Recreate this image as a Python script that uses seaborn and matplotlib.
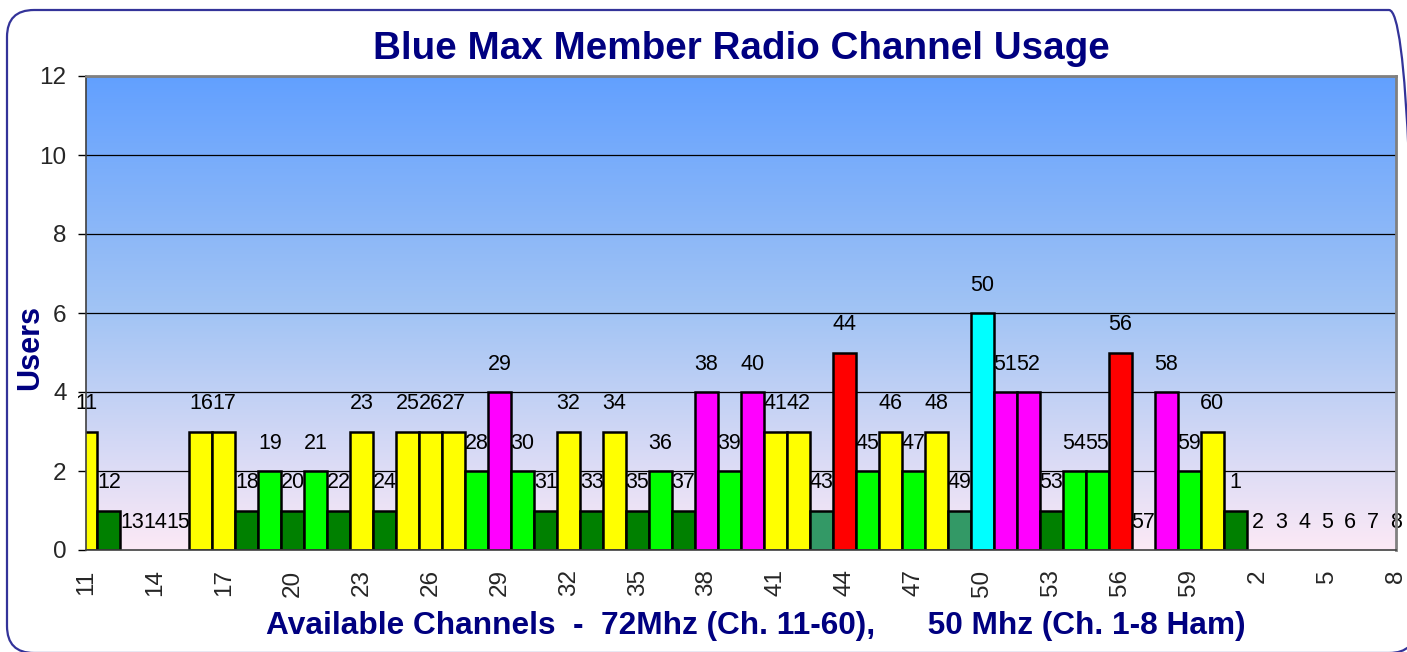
import numpy as np
import pandas as pd
import matplotlib
matplotlib.use("Agg")
import matplotlib.pyplot as plt
from matplotlib.patches import FancyBboxPatch
from matplotlib.transforms import IdentityTransform
from matplotlib.colors import to_rgb
import seaborn as sns

# ---- data ----
channels = [str(c) for c in range(11, 61)] + [str(c) for c in range(1, 9)]
users = [3, 1, 0, 0, 0, 3, 3, 1, 2, 1,
         2, 1, 3, 1, 3, 3, 3, 2, 4, 2,
         1, 3, 1, 3, 1, 2, 1, 4, 2, 4,
         3, 3, 1, 5, 2, 3, 2, 3, 1, 6,
         4, 4, 1, 2, 2, 5, 0, 4, 2, 3,
         1, 0, 0, 0, 0, 0, 0, 0]
status = ["Y", "DG", "DG", "DG", "DG", "Y", "Y", "DG", "G", "DG",
          "G", "DG", "Y", "DG", "Y", "Y", "Y", "G", "M", "G",
          "DG", "Y", "DG", "Y", "DG", "G", "DG", "M", "G", "M",
          "Y", "Y", "SG", "R", "G", "Y", "G", "Y", "SG", "C",
          "M", "M", "DG", "G", "G", "R", "DG", "M", "G", "Y",
          "DG", "DG", "DG", "DG", "DG", "DG", "DG", "DG"]
status_colors = {"Y": "#FFFF00", "DG": "#008000", "G": "#00FF00", "M": "#FF00FF",
                 "R": "#FF0000", "C": "#00FFFF", "SG": "#339966"}
tick_labels = channels[::3]

title = "Blue Max Member Radio Channel Usage"
xlabel = "Available Channels  -  72Mhz (Ch. 11-60),      50 Mhz (Ch. 1-8 Ham)"
ylabel = "Users"

df = pd.DataFrame({"channel": channels, "users": users, "status": status})

sns.set_theme(style="white")
plt.rcParams["font.family"] = ["Liberation Sans", "DejaVu Sans"]

W, H = 1407, 652
fig = plt.figure(figsize=(W / 100, H / 100), dpi=100)
fig.patch.set_facecolor("white")
ax = fig.add_axes([86 / W, (H - 550) / H, (1396 - 86) / W, (550 - 76) / H])

# gradient background (bottom -> middle -> top)
stops = [np.array(to_rgb(c)) for c in ("#FCE9F6", "#A2C4F4", "#62A0FF")]
t = np.linspace(0, 1, 256)
grad = np.where(t[:, None] < 0.5,
                stops[0] * (1 - 2 * t[:, None]) + stops[1] * (2 * t[:, None]),
                stops[1] * (2 - 2 * t[:, None]) + stops[2] * (2 * t[:, None] - 1))
ax.imshow(grad[:, None, :], extent=[-0.5, 57.5, 0, 12], origin="lower", aspect="auto", zorder=0)

for yv in range(2, 13, 2):
    ax.axhline(yv, color="black", lw=0.9, zorder=1)

palette = [status_colors[s] for s in status]
sns.barplot(data=df, x="channel", y="users", hue="channel", order=channels,
            hue_order=channels, palette=palette, saturation=1, width=1.0, dodge=False,
            legend=False, edgecolor="black", linewidth=1.8, ax=ax, zorder=2)
for p in ax.patches:
    if p.get_height() == 0:
        p.set_linewidth(0)

for i, (c, v) in enumerate(zip(channels, users)):
    ax.text(i, v + 0.7, c, ha="center", va="center", fontsize=15.5, color="black", zorder=4)

ax.set_xlim(0, 57)
ax.set_ylim(0, 12)
ax.set_yticks(range(0, 13, 2))
ax.set_yticklabels([str(v) for v in range(0, 13, 2)], fontsize=17.5)
ax.set_xticks(range(0, 58, 3))
ax.set_xticklabels(tick_labels, rotation=90, fontsize=17.5)
ax.tick_params(axis="y", which="major", direction="out", length=6, width=1, color="black", pad=8, left=True)
ax.tick_params(axis="x", which="major", length=0, pad=14)
ax.set_xlabel(xlabel, fontsize=22.8, fontweight="bold", color="#000080")
ax.xaxis.set_label_coords(0.511, -0.128)
ax.set_ylabel(ylabel, fontsize=22, fontweight="bold", color="#000080")
ax.yaxis.set_label_coords(-0.031, 0.428)
ax.set_title(title, fontsize=27.8, fontweight="bold", color="#000080", pad=12)

for side in ["top", "right"]:
    ax.spines[side].set_color("#808080")
    ax.spines[side].set_linewidth(2)
ax.spines["left"].set_color("#404040")
ax.spines["bottom"].set_color("#404040")
ax.spines["left"].set_linewidth(1.2)
ax.spines["bottom"].set_linewidth(1.2)
for s in ax.spines.values():
    s.set_zorder(5)

border = FancyBboxPatch((7, -1), 1409, 643, boxstyle="round,pad=0,rounding_size=27",
                        transform=IdentityTransform(), facecolor="none",
                        edgecolor="#333399", linewidth=1.6)
fig.add_artist(border)

fig.savefig("out.png", dpi=100)
